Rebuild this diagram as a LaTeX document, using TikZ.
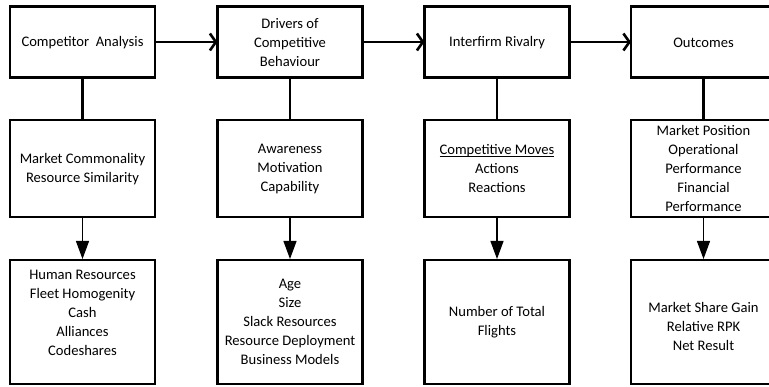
\documentclass[tikz,border=0pt]{standalone}
\usepackage{fontspec}
\setmainfont{Carlito}
\usetikzlibrary{arrows.meta}
\newcommand\myul[1]{\leavevmode\sbox0{#1}\rlap{\rule[-2.2pt]{\wd0}{0.8pt}}\usebox0}
\begin{document}
\begin{tikzpicture}[x=1pt,y=-1pt,
  box/.style={draw, line width=2.6pt, inner sep=0pt, outer sep=0pt, minimum width=145pt},
  toprow/.style={box, minimum height=71pt},
  midrow/.style={box, minimum height=97pt},
  botrow/.style={box, minimum height=124pt},
  txt/.style={align=center, inner sep=0pt, font=\fontsize{14.6}{19}\selectfont},
  harrow/.style={line width=2.6pt, -{Straight Barb[length=6pt,width=17pt,line width=2.6pt]}},
  link/.style={line width=2.6pt},
  varrow/.style={line width=1.2pt, -{Triangle[length=18pt,width=13pt]}, shorten >=1pt}
]
\useasboundingbox (0,0) rectangle (769,387);
% top row
\node[toprow] (t1) at (82.5,42) {};
\node[toprow] (t2) at (290,42) {};
\node[toprow] (t3) at (497,42) {};
\node[toprow] (t4) at (703.5,42) {};
% middle row
\node[midrow] (m1) at (82.5,168.5) {};
\node[midrow] (m2) at (290,168.5) {};
\node[midrow] (m3) at (497,168.5) {};
\node[midrow] (m4) at (703.5,168.5) {};
% bottom row
\node[botrow] (b1) at (82.5,322) {};
\node[botrow] (b2) at (290,322) {};
\node[botrow] (b3) at (497,322) {};
\node[botrow] (b4) at (703.5,322) {};
% texts
\node[txt] (tt1) at (82.5,43) {Competitor\ \ Analysis};
\node[txt] (tt2) at (290,43) {Drivers of\\Competitive\\Behaviour};
\node[txt] (tt3) at (497,43) {Interfirm Rivalry};
\node[txt] (tt4) at (703.5,43) {Outcomes};
\node[txt] (mt1) at (82.5,169.5) {Market Commonality\\Resource Similarity};
\node[txt] (mt2) at (290,169) {Awareness\\Motivation\\Capability};
\node[txt] (mt3) at (497,169) {\myul{Competitive Moves}\\Actions\\Reactions};
\node[txt] (mt4) at (703.5,168) {Market Position\\Operational\\Performance\\Financial\\Performance};
\node[txt] (bt1) at (82.5,312.5) {Human Resources\\Fleet Homogenity\\Cash\\Alliances\\Codeshares};
\node[txt] (bt2) at (290,321.5) {Age\\Size\\Slack Resources\\Resource Deployment\\Business Models};
\node[txt] (bt3) at (497,322.5) {Number of Total\\Flights};
\node[txt] (bt4) at (703.5,326.5) {Market Share Gain\\Relative RPK\\Net Result};
% connectors
\draw[harrow] (t1) -- (t2);
\draw[harrow] (t2) -- (t3);
\draw[harrow] (t3) -- (t4);
\foreach \i in {1,2,3,4} {
  \draw[link] (t\i) -- (m\i);
  \draw[varrow] (m\i) -- (b\i);
}
\end{tikzpicture}
\end{document}
